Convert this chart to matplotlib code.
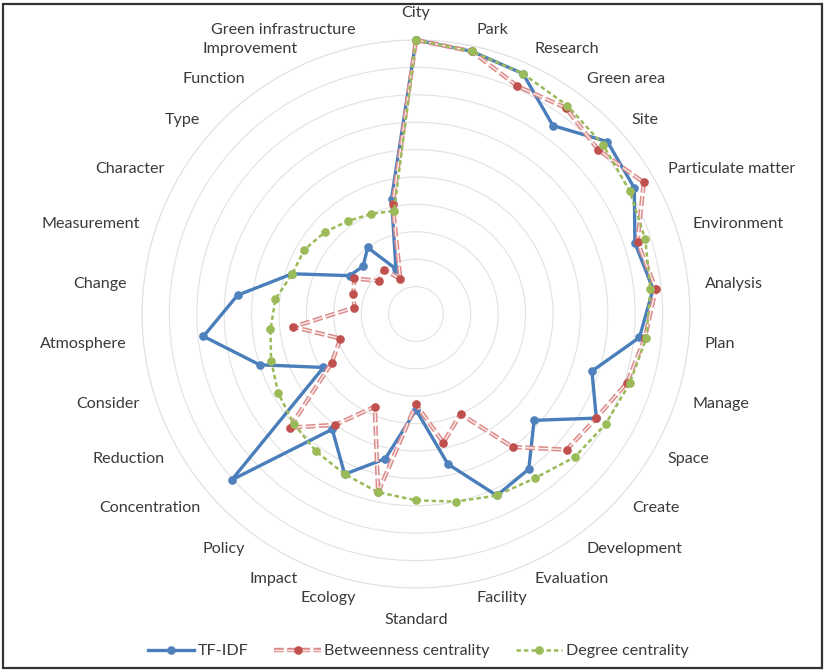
import numpy as np
import matplotlib
matplotlib.use("Agg")
import matplotlib.pyplot as plt
from matplotlib.patches import Rectangle
from matplotlib.legend_handler import HandlerTuple

plt.rcParams['font.family'] = ['Lato', 'DejaVu Sans']
plt.rcParams['lines.scale_dashes'] = False

categories = ["City", "Park", "Research", "Green area", "Site", "Particulate matter",
              "Environment", "Analysis", "Plan", "Manage", "Space", "Create",
              "Development", "Evaluation", "Facility", "Standard", "Ecology", "Impact",
              "Policy", "Concentration", "Reduction", "Consider", "Atmosphere", "Change",
              "Measurement", "Character", "Type", "Function", "Improvement",
              "Green infrastructure"]

tfidf = [1.00, 0.98, 0.96, 0.85, 0.94, 0.92, 0.84, 0.87, 0.82, 0.675,
         0.76, 0.58, 0.70, 0.725, 0.56, 0.35, 0.54, 0.64, 0.52, 0.905,
         0.39, 0.60, 0.78, 0.655, 0.475, 0.28, 0.26, 0.30, 0.18, 0.43]

betweenness = [1.00, 0.98, 0.91, 0.93, 0.895, 0.96, 0.85, 0.88, 0.84, 0.81,
               0.76, 0.74, 0.60, 0.40, 0.48, 0.33, 0.665, 0.37, 0.50, 0.62,
               0.355, 0.29, 0.45, 0.226, 0.24, 0.26, 0.18, 0.20, 0.14, 0.41]

degree = [1.00, 0.98, 0.96, 0.94, 0.92, 0.90, 0.88, 0.86, 0.845, 0.82,
          0.80, 0.78, 0.74, 0.725, 0.70, 0.68, 0.665, 0.64, 0.62, 0.60,
          0.58, 0.556, 0.534, 0.516, 0.475, 0.47, 0.447, 0.42, 0.40, 0.385]

series_names = ["TF-IDF", "Betweenness centrality", "Degree centrality"]

W, H = 827, 671
fig = plt.figure(figsize=(W / 100, H / 100), dpi=100)

cx, cy, R = 416, 314, 274
ax = fig.add_axes([(cx - R) / W, (H - cy - R) / H, 2 * R / W, 2 * R / H],
                  projection='polar')
ax.set_theta_zero_location('N')
ax.set_theta_direction(-1)
ax.set_ylim(0, 1.0)
ax.set_yticks(np.arange(0.1, 1.01, 0.1))
ax.set_yticklabels([])
ax.set_xticks([])
ax.grid(True, color='#E2E2E2', linewidth=0.8)
ax.xaxis.grid(False)
ax.spines['polar'].set_color('#E2E2E2')
ax.spines['polar'].set_linewidth(0.8)
ax.set_facecolor('none')

n = len(categories)
angles = np.arange(n) * 2 * np.pi / n
ang_c = np.append(angles, angles[0])

def closed(v):
    return np.append(v, v[0])

blue = '#4A7EBB'
red_m = '#C0504D'
red_l = '#DC8C8B'
green = '#9BBB59'
fs = 11.6
tc = '#3A3A3A'

# TF-IDF
lb, = ax.plot(ang_c, closed(tfidf), color=blue, lw=2.4, marker='o', ms=5.2,
              mfc='#4F81BD', mec='#4F81BD', zorder=3, clip_on=False)

# Betweenness (double dashed line)
dash = (7, 2.5)
r1, = ax.plot(ang_c, closed(betweenness), color=red_l, lw=3.2, dashes=dash,
              zorder=4, clip_on=False)
r2, = ax.plot(ang_c, closed(betweenness), color='#FBEDED', lw=1.0, dashes=dash,
              zorder=4.1, clip_on=False)
r3, = ax.plot(angles, betweenness, ls='none', marker='o', ms=5.2, mfc=red_m,
              mec=red_m, zorder=4.2, clip_on=False)

# Degree
lg, = ax.plot(ang_c, closed(degree), color=green, lw=1.8, dashes=(3.2, 2.2),
              marker='o', ms=5.2, mfc=green, mec=green, zorder=5, clip_on=False)

# category labels
for a, lab in zip(angles, categories):
    s, c = np.sin(a), np.cos(a)
    if abs(s) < 0.05:
        r = 1.10 if c > 0 else 1.115
        ax.text(a, r, lab, ha='center', va='center', fontsize=fs, color=tc)
    else:
        r = 1.06
        ax.text(a, r, lab, ha='left' if s > 0 else 'right', va='center',
                fontsize=fs, color=tc)

leg = fig.legend([lb, (r1, r2, r3), lg], series_names, loc='center',
                 bbox_to_anchor=(418 / W, 1 - 651 / H), ncol=3, frameon=False,
                 fontsize=fs, handlelength=2.9, columnspacing=1.6,
                 handletextpad=0.2, numpoints=1,
                 handler_map={tuple: HandlerTuple(ndivide=1)})
for t in leg.get_texts():
    t.set_color(tc)

fig.patches.append(Rectangle((2.5 / W, 3.5 / H), (822 - 2.5) / W, (667.5 - 3.5) / H,
                             transform=fig.transFigure, fill=False,
                             edgecolor='#333333', linewidth=1.6))

fig.savefig('out.png', dpi=100)
